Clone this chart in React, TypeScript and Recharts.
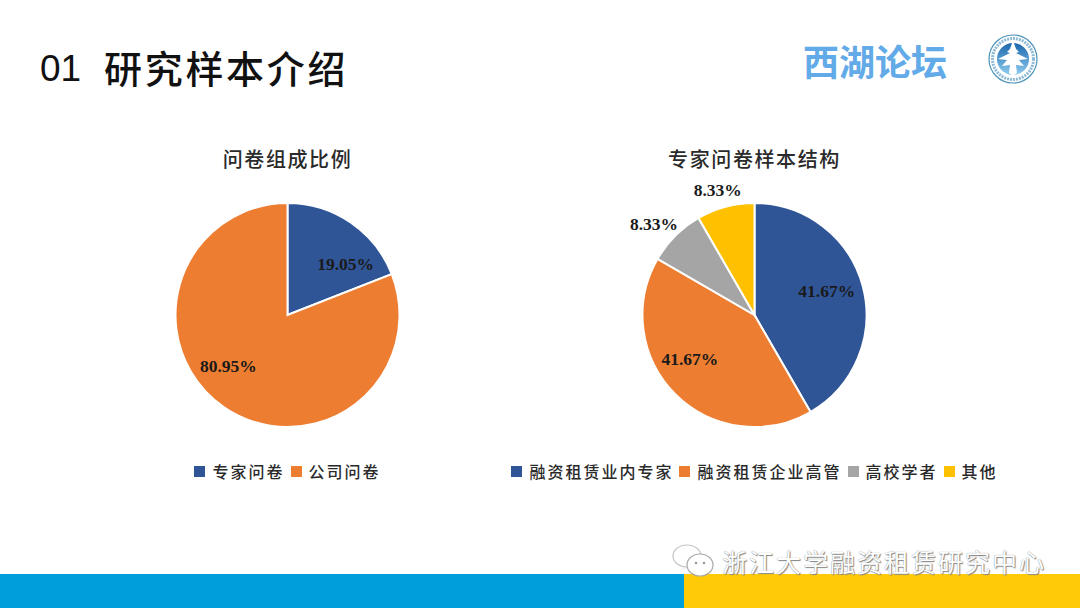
import React from "react";
import { Cell, Legend, Pie, PieChart } from "recharts";

const surveyNames = ["专家问卷", "公司问卷"];
const surveyValues = [19.05, 80.95];
const expertNames = ["融资租赁业内专家", "融资租赁企业高管", "高校学者", "其他"];
const expertValues = [41.67, 41.67, 8.33, 8.33];

const sliceColors = ["#2f5597", "#ed7d31", "#a5a5a5", "#ffc000"];
const cjk = '"Noto Sans CJK SC", sans-serif';

// label nudges, relative to a point 80px out along the slice middle
const surveyNudges = [[13, 15], [-14, -15]];
const expertNudges = [[-5, -3], [-8, -13], [-44, -34], [-16, -48]];

function toRows(names: string[], values: number[]) {
  return names.map((name, i) => ({ name, value: values[i] }));
}

function makeLabel(nudges: number[][]) {
  return (props: any) => {
    const rad = (props.midAngle * Math.PI) / 180;
    const [dx, dy] = nudges[props.index];
    return (
      <text
        x={props.cx + 80 * Math.cos(rad) + dx}
        y={props.cy - 80 * Math.sin(rad) + dy}
        textAnchor="middle"
        dominantBaseline="central"
        fontFamily='"Liberation Serif", serif'
        fontWeight="bold"
        fontSize={17.5}
        fill="#1a1a1a"
      >
        {props.value.toFixed(2)}%
      </text>
    );
  };
}

function LegendRow({ payload }: any) {
  return (
    <div style={{ display: "flex", justifyContent: "center", gap: 6, whiteSpace: "nowrap", lineHeight: "26px" }}>
      {payload.map((item: any) => (
        <div key={item.value} style={{ display: "flex", alignItems: "center", gap: 7 }}>
          <span style={{ width: 11, height: 11, background: item.color }} />
          <span style={{ color: "#2a2a2a", fontFamily: cjk, fontWeight: 500, fontSize: 16, letterSpacing: 2 }}>
            {item.value}
          </span>
        </div>
      ))}
    </div>
  );
}

function SamplePie(props: { left: number; width: number; title: string; rows: any[]; nudges: number[][] }) {
  const { left, width, title, rows, nudges } = props;
  return (
    <div style={{ position: "absolute", left, top: 0, width, height: 520 }}>
      <div
        style={{
          position: "absolute",
          top: 144,
          width: "100%",
          textAlign: "center",
          fontFamily: cjk,
          fontWeight: 500,
          fontSize: 20,
          letterSpacing: 1.6,
          lineHeight: "30px",
          color: "#2a2a2a",
        }}
      >
        {title}
      </div>
      <PieChart
        width={width}
        height={520}
        margin={{ top: 0, right: 0, bottom: 0, left: 0 }}
        style={{ position: "absolute", left: 0, top: 0 }}
      >
        <Pie
          data={rows}
          dataKey="value"
          nameKey="name"
          cx={width / 2}
          cy={315}
          outerRadius={112}
          startAngle={90}
          endAngle={-270}
          stroke="#fff"
          strokeWidth={2}
          label={makeLabel(nudges)}
          labelLine={false}
          isAnimationActive={false}
        >
          {rows.map((row, i) => (
            <Cell key={row.name} fill={sliceColors[i]} />
          ))}
        </Pie>
        <Legend
          itemSorter={null}
          content={<LegendRow />}
          wrapperStyle={{ top: 458, left: 0, width }}
        />
      </PieChart>
    </div>
  );
}

function Emblem() {
  return (
    <svg width={54} height={54} viewBox="0 0 54 54" style={{ position: "absolute", left: 986, top: 32 }}>
      <defs>
        <linearGradient id="emblemFill" x1="0" y1="0" x2="0" y2="1">
          <stop offset="0%" stopColor="#1c66ad" />
          <stop offset="100%" stopColor="#8fcdf0" />
        </linearGradient>
      </defs>
      <circle cx={27} cy={27} r={24} fill="#fff" stroke="#4f93b8" strokeWidth={1.2} />
      <circle cx={27} cy={27} r={20.5} fill="none" stroke="#5f9cc4" strokeWidth={3} strokeDasharray="2 1" opacity={0.7} />
      <circle cx={27} cy={27} r={16} fill="url(#emblemFill)" />
      <path
        d="M27 8 L30 17 L33 20 L30 21 L42 27 L33 28 L38 34 L30 33 L31 41 L27 44 L23 41 L24 33 L16 34 L21 28 L12 27 L24 21 L21 20 L24 17 Z"
        fill="#fff"
      />
    </svg>
  );
}

function WeChatIcon() {
  return (
    <svg width={48} height={42} viewBox="0 0 48 42" style={{ position: "absolute", left: 670, top: 541 }}>
      <ellipse cx={17} cy={15} rx={14} ry={11} fill="#fff" stroke="#c4c4c4" strokeWidth={1.2} />
      <ellipse cx={30} cy={24} rx={13} ry={11} fill="#fff" stroke="#a8a8a8" strokeWidth={1.2} />
      <circle cx={26} cy={22} r={1.3} fill="#999" />
      <circle cx={34} cy={22} r={1.3} fill="#999" />
    </svg>
  );
}

export default function App() {
  const headline = {
    position: "absolute",
    fontWeight: 500,
    lineHeight: "54px",
    color: "#111",
    whiteSpace: "pre",
  } as const;
  return (
    <div style={{ position: "fixed", left: 0, top: 0, width: 1080, height: 608, background: "#fff", overflow: "hidden" }}>
      <div style={{ ...headline, left: 40, top: 42, fontFamily: '"Liberation Sans", sans-serif', fontWeight: 400, fontSize: 37 }}>01</div>
      <div style={{ ...headline, left: 104, top: 40, fontFamily: cjk, fontSize: 38, letterSpacing: 2.7 }}>研究样本介绍</div>
      <div
        style={{
          position: "absolute",
          left: 803,
          top: 34,
          fontFamily: cjk,
          fontWeight: 700,
          fontSize: 36,
          lineHeight: "52px",
          color: "#62aae8",
        }}
      >
        西湖论坛
      </div>
      <Emblem />

      <SamplePie left={0} width={575} title="问卷组成比例" rows={toRows(surveyNames, surveyValues)} nudges={surveyNudges} />
      <SamplePie left={400} width={709} title="专家问卷样本结构" rows={toRows(expertNames, expertValues)} nudges={expertNudges} />

      <div style={{ position: "absolute", left: 0, top: 574, width: 684, height: 34, background: "#009fdc" }} />
      <div style={{ position: "absolute", left: 684, top: 574, width: 396, height: 34, background: "#ffca08" }} />
      <WeChatIcon />
      <div
        style={{
          position: "absolute",
          left: 722,
          top: 542,
          fontFamily: cjk,
          fontSize: 25,
          letterSpacing: 2,
          lineHeight: "38px",
          color: "#fff",
          whiteSpace: "nowrap",
          textShadow: "0 0 1px #777, 1px 1px 1px #888",
        }}
      >
        浙江大学融资租赁研究中心
      </div>
    </div>
  );
}
